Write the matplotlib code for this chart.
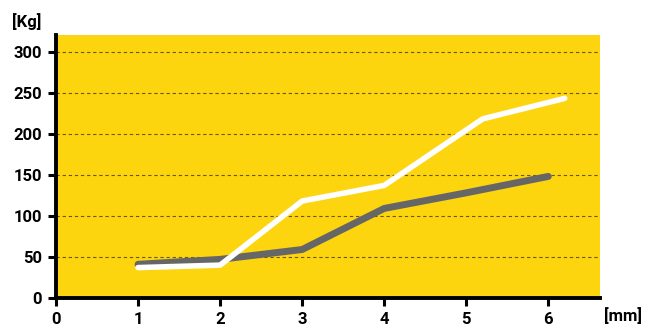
import matplotlib
matplotlib.use("Agg")
import matplotlib.pyplot as plt
from matplotlib import font_manager as fm

# Load (kg) versus deformation (mm)
white_x = [1, 2, 3, 4, 5.2, 6.2]
white_y = [37, 40, 118, 137, 218, 243]
gray_x = [1, 2, 3, 4, 5, 6]
gray_y = [41, 47, 59, 109, 128, 148]

x_ticks = [0, 1, 2, 3, 4, 5, 6]
y_ticks = [0, 50, 100, 150, 200, 250, 300]

# Static bold Roboto face
bold_path = None
for f in fm.fontManager.ttflist:
    if f.fname.endswith('Roboto-Bold.ttf'):
        bold_path = f.fname
        break
if bold_path:
    label_font = fm.FontProperties(fname=bold_path, size=12)
else:
    label_font = fm.FontProperties(family='DejaVu Sans', weight='bold', size=10.5)

fig = plt.figure(figsize=(6.49, 3.28), dpi=100)
ax = fig.add_axes([0.0863, 0.0915, 0.8382, 0.8015])
ax.set_facecolor('#FCD50F')

ax.set_xlim(0, 6.63)
ax.set_ylim(0, 320)

for y in y_ticks[1:]:
    ax.axhline(y, color='#6a5814', lw=0.8, ls=(0, (3, 2.5)), zorder=1)

ax.plot(gray_x, gray_y, color='#666666', lw=5, solid_capstyle='round', zorder=3)
ax.plot(white_x, white_y, color='white', lw=4, solid_capstyle='round', zorder=4)

ax.set_xticks(x_ticks)
ax.set_yticks(y_ticks)
ax.set_xticklabels([str(v) for v in x_ticks], fontproperties=label_font)
ax.set_yticklabels([str(v) for v in y_ticks], fontproperties=label_font)
ax.tick_params(axis='both', direction='out', length=6, width=2.2, colors='black', pad=4)

for side in ['left', 'bottom']:
    ax.spines[side].set_linewidth(2.8)
    ax.spines[side].set_color('black')
for side in ['top', 'right']:
    ax.spines[side].set_visible(False)

fig.text(27 / 649, 1 - 22 / 328, '[Kg]', fontproperties=label_font, ha='center', va='center')
fig.text(623 / 649, 1 - 316 / 328, '[mm]', fontproperties=label_font, ha='center', va='center')

fig.savefig('out.png', dpi=100)
